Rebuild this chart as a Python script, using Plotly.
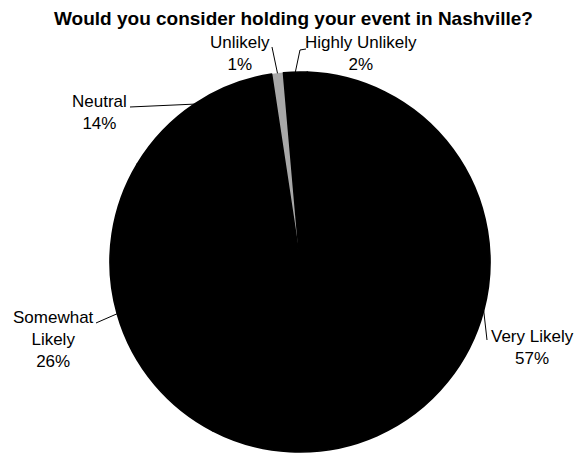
import math
import plotly.graph_objects as go

# Survey responses, in clockwise drawing order starting just left of 12 o'clock
categories = ["Unlikely", "Highly Unlikely", "Very Likely", "Somewhat Likely", "Neutral"]
shares = [1, 2, 57, 26, 14]
label_texts = ["Unlikely", "Highly Unlikely", "Very Likely", "Somewhat<br>Likely", "Neutral"]
slice_colors = ["#a8a8a8", "#000000", "#000000", "#000000", "#000000"]

title_text = "Would you consider holding your event in Nashville?"

# Page geometry (pixels)
W, H = 576, 454
CX, CY, R = 300, 262, 190
START_DEG = -8.6
FONT = "Liberation Sans, Arial, sans-serif"

# Label block centres and leader-line bend points (pixels)
label_pos = {
    "Unlikely": (240, 53),
    "Highly Unlikely": (361, 53),
    "Very Likely": (532, 347),
    "Somewhat Likely": (53, 339),
    "Neutral": (99, 112),
}
leader_pts = {
    "Unlikely": [(272, 47)],
    "Highly Unlikely": [(306, 49), (300, 50)],
    "Very Likely": [(487, 340)],
    "Somewhat Likely": [(96, 323)],
    "Neutral": [(130, 107)],
}


def px(x, y):
    return x / W, 1 - y / H


fig = go.Figure(
    go.Pie(
        labels=categories,
        values=shares,
        sort=False,
        direction="clockwise",
        rotation=START_DEG,
        marker=dict(colors=slice_colors,
                    line=dict(color=slice_colors, width=[0.5, 1.6, 1.6, 1.6, 1.6])),
        textinfo="none",
        hoverinfo="label+percent",
        showlegend=False,
        domain=dict(
            x=[(CX - R) / W, (CX + R) / W],
            y=[(H - CY - R) / H, (H - CY + R) / H],
        ),
    )
)

total = sum(shares)
annotations = []
shapes = []
cum = 0
for cat, txt, v in zip(categories, label_texts, shares):
    mid = math.radians(START_DEG + 360 * (cum + v / 2) / total)
    cum += v
    ex, ey = CX + R * math.sin(mid), CY - R * math.cos(mid)

    lx, ly = label_pos[cat]
    ax, ay = px(lx, ly)
    annotations.append(dict(
        text=f"{txt}<br>{v}%", x=ax, y=ay, xref="paper", yref="paper",
        xanchor="center", yanchor="middle", showarrow=False, align="center",
        font=dict(family=FONT, size=17, color="#000000"),
    ))

    pts = leader_pts[cat] + [(ex, ey)]
    path = "M " + " L ".join(f"{px(x, y)[0]:.5f},{px(x, y)[1]:.5f}" for x, y in pts)
    shapes.append(dict(type="path", path=path, xref="paper", yref="paper",
                       line=dict(color="#000000", width=1)))

tx, ty = px(293, 19)
annotations.append(dict(
    text=f"<b>{title_text}</b>", x=tx, y=ty, xref="paper", yref="paper",
    xanchor="center", yanchor="middle", showarrow=False,
    font=dict(family=FONT, size=19, color="#000000"),
))

fig.update_layout(
    width=W, height=H,
    margin=dict(l=0, r=0, t=0, b=0),
    paper_bgcolor="#ffffff",
    plot_bgcolor="#ffffff",
    annotations=annotations,
    shapes=shapes,
)

fig.write_html("out.html")
